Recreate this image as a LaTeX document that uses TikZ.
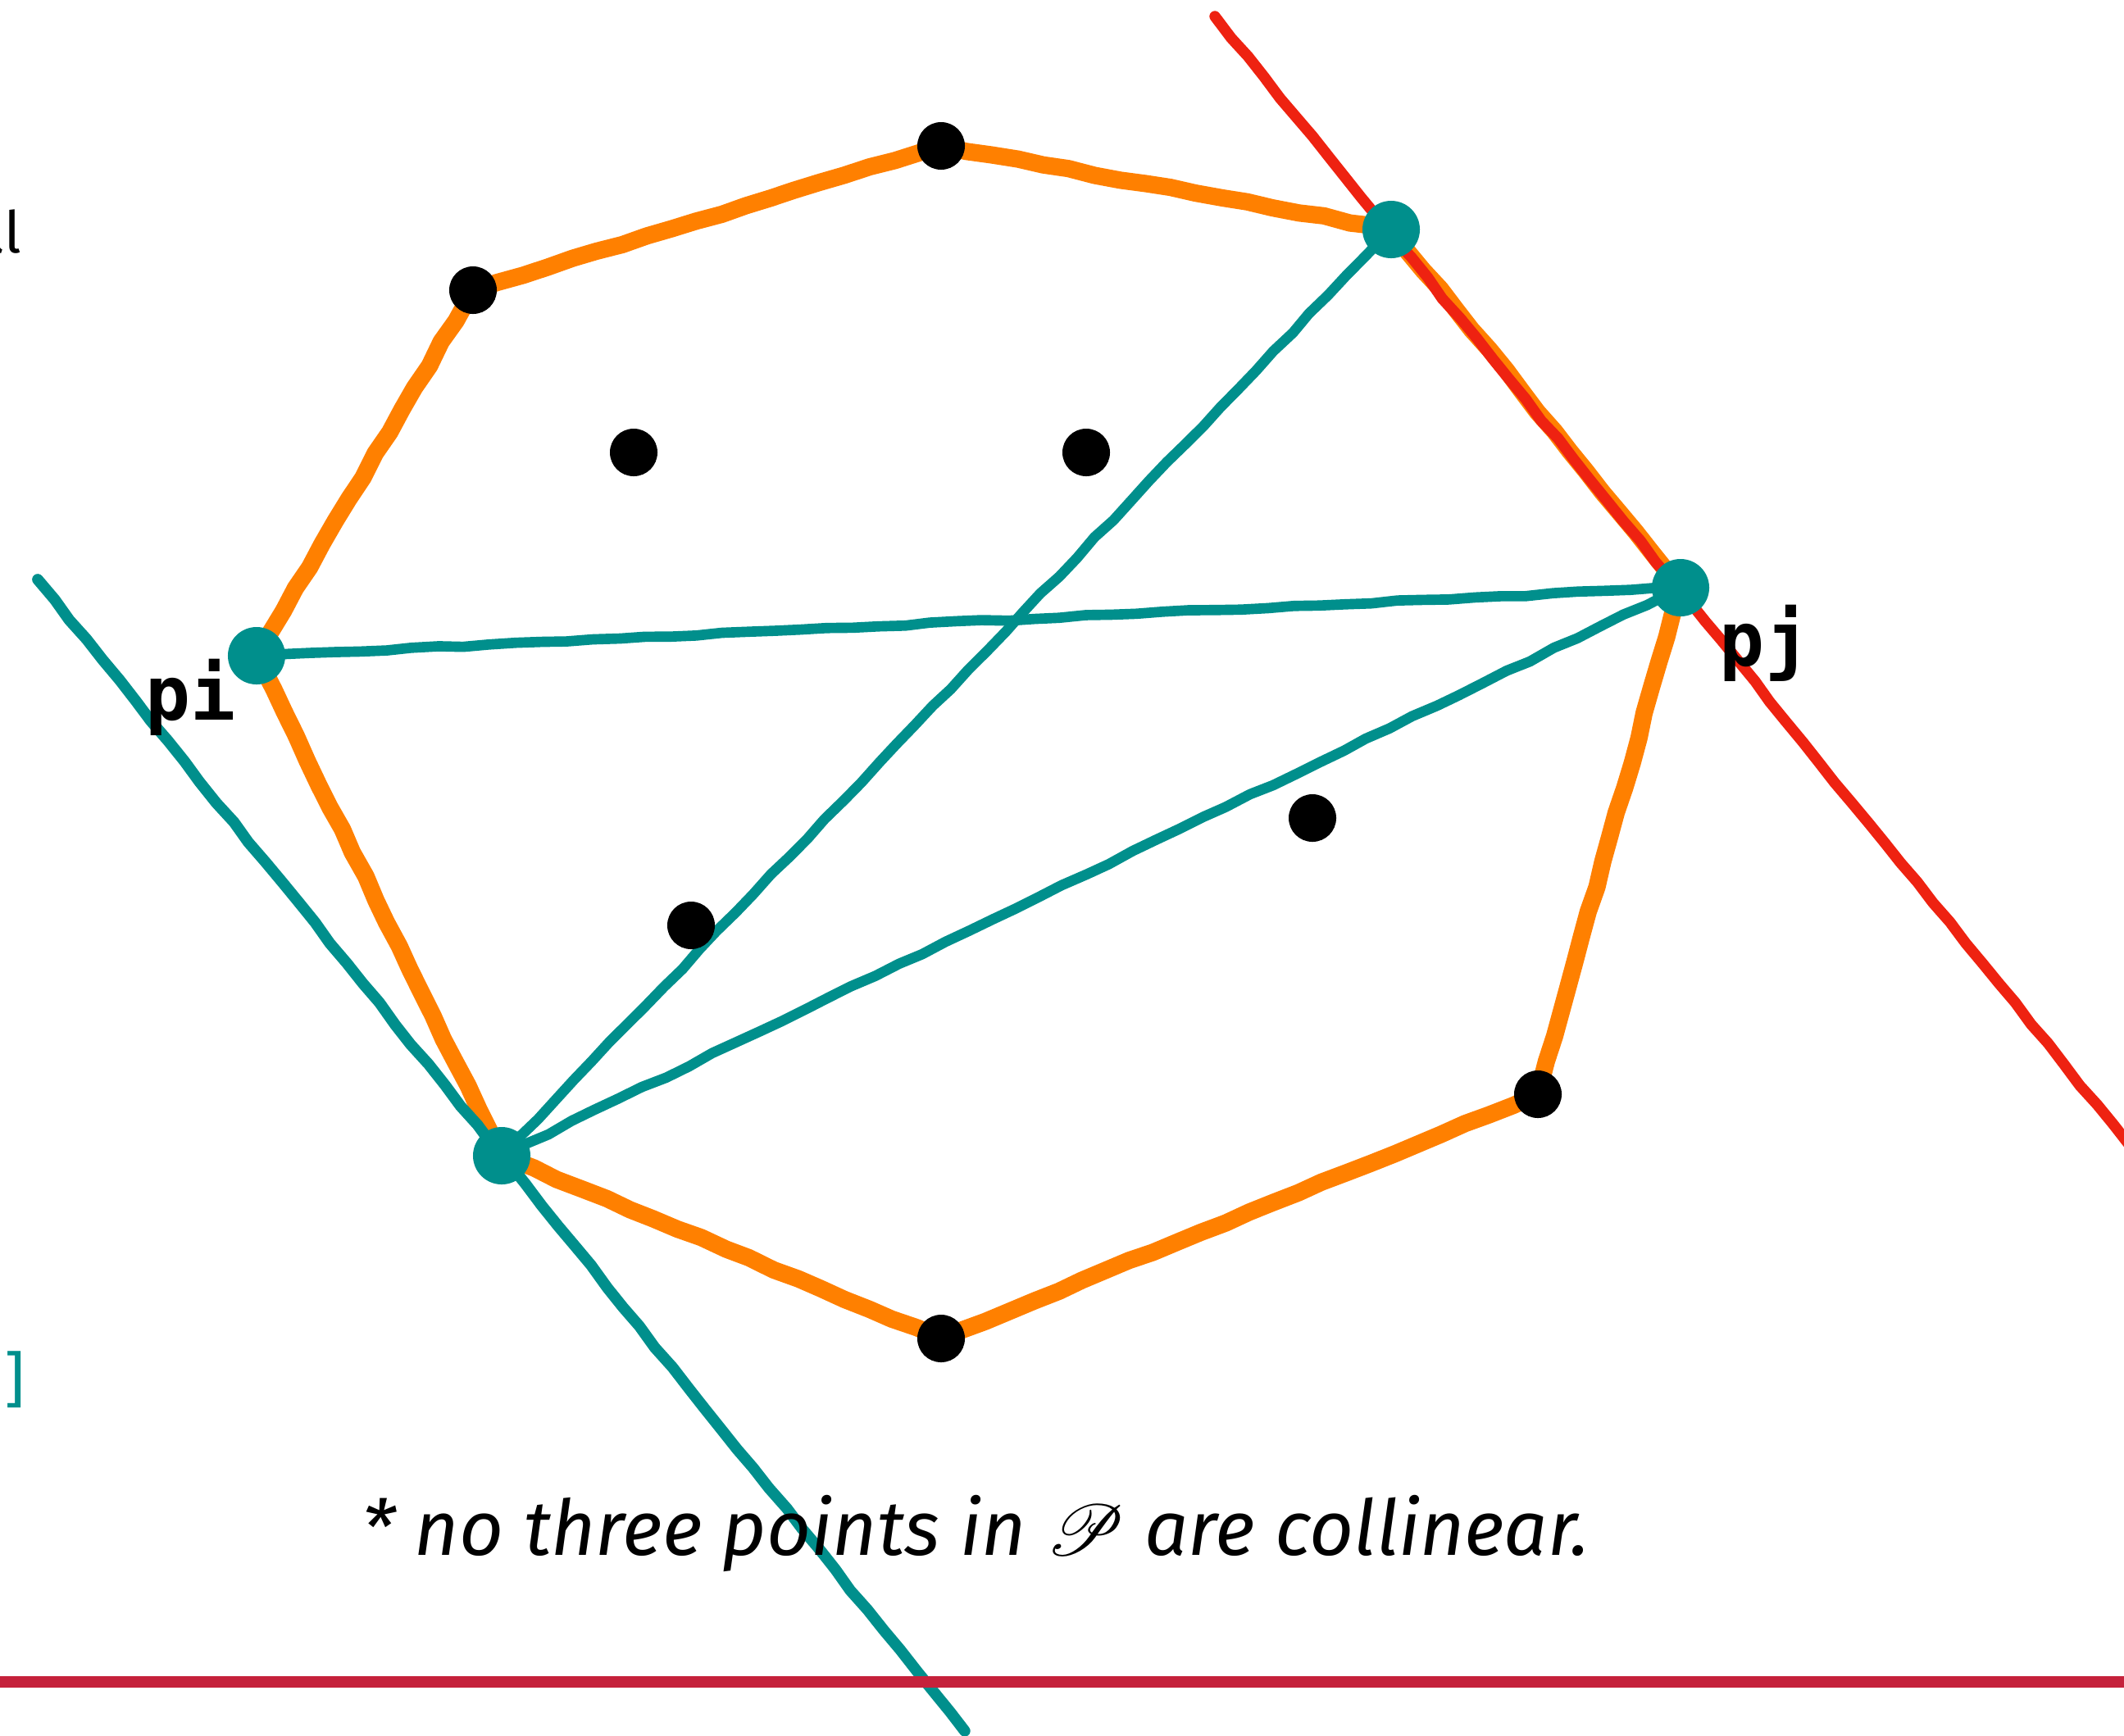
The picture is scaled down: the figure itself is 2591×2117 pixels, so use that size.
\documentclass[tikz,border=0pt]{standalone}
\usepackage{fontspec}
\usepackage{mathrsfs}
\setmainfont{Fira Sans}
\newfontfamily\labelfont{DejaVu Sans Mono}
\usetikzlibrary{decorations.pathmorphing}
\definecolor{hullorange}{RGB}{255,128,0}
\definecolor{edgeteal}{RGB}{0,143,140}
\definecolor{linered}{RGB}{238,34,17}
\definecolor{rulered}{RGB}{197,33,59}
\pgfmathsetseed{7}

\begin{document}
\begin{tikzpicture}[x=0.01cm,y=-0.01cm,
  sketch/.style={decorate,decoration={random steps,segment length=9pt,amplitude=0.4pt},line cap=round,line join=round},
  hull/.style={sketch,draw=hullorange,line width=6pt},
  tedge/.style={sketch,draw=edgeteal,line width=3.6pt},
  dot/.style={circle,fill=black,inner sep=0pt,minimum size=0.58cm},
  tdot/.style={circle,fill=edgeteal,inner sep=0pt,minimum size=0.70cm},
  plabel/.style={font=\labelfont\bfseries\fontsize{26}{30}\selectfont,inner sep=0pt}]
  \useasboundingbox (0,0) rectangle (2591,2117);
  % points of P
  \coordinate (top) at (1148,178);  \coordinate (ul) at (577,354);
  \coordinate (tr) at (1697,280);   \coordinate (pi) at (313,800);
  \coordinate (pj) at (2050,717);   \coordinate (br) at (1876,1335);
  \coordinate (bot) at (1148,1633); \coordinate (bl) at (612,1410);
  \coordinate (in1) at (773,552);   \coordinate (in2) at (1325,552);
  \coordinate (in3) at (1601,998);  \coordinate (in4) at (843,1129);
  \coordinate (ta) at (46,707);     \coordinate (tb) at (1177,2112);
  \coordinate (ra) at (1482,20);    \coordinate (rb) at (2600,1400);
  % hull, lines, edges
  \draw[hull] (ul) -- (top) -- (tr) -- (pj) -- (br) -- (bot) -- (bl) -- (pi) -- cycle;
  \draw[sketch,draw=linered,line width=3.8pt] (ra) -- (rb);
  \draw[tedge,line width=3.9pt] (ta) -- (tb);
  \draw[tedge] (pi) -- (pj);
  \draw[tedge] (bl) -- (tr);
  \draw[tedge] (bl) -- (pj);
  \foreach \p in {top,ul,tr,br,bot,in1,in2,in3,in4}
    \node[dot] (d-\p) at (\p) {};
  \foreach \p in {pi,pj,tr,bl}
    \node[tdot] (t-\p) at (\p) {};
  \node[plabel] (lpi) at (233,851) {pi};
  \node[plabel] (lpj) at (2153,785) {pj};
  \node[font=\itshape\fontsize{26.7}{32}\selectfont,anchor=base] (note) at (1190,1897) {* no three points in $\mathscr{P}$ are collinear.};
  \node[font=\fontsize{20}{24}\selectfont,anchor=base east,inner sep=0pt] (cut) at (27,308) {al};
  \node[font=\labelfont\fontsize{22}{26}\selectfont,text=edgeteal,inner sep=0pt] (brk) at (20,1683) {]};
  \draw[rulered,line width=3.8pt] (0,2052) -- (2591,2052);
\end{tikzpicture}
\end{document}
